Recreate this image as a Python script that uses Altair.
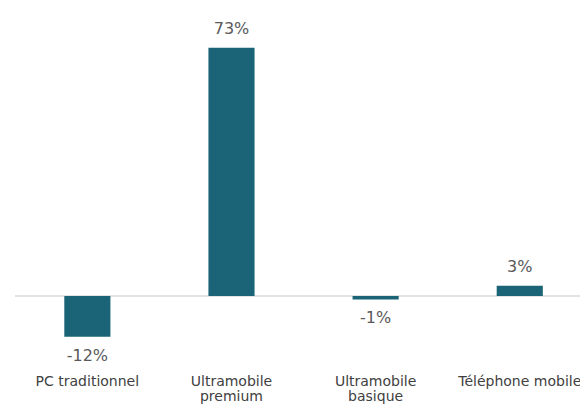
import altair as alt
import pandas as pd

categories = ["PC traditionnel", "Ultramobile premium", "Ultramobile basique", "Téléphone mobile"]
values = [-12, 73, -1, 3]
labels = ["-12%", "73%", "-1%", "3%"]

df = pd.DataFrame({"cat": categories, "val": values, "lab": labels})

FONT = "DejaVu Sans"
BAR = "#1b6377"
DOMAIN = [-20, 84.7]

x = alt.X("cat:N", sort=categories, title=None,
          scale=alt.Scale(paddingInner=0.68, paddingOuter=0.3, align=0.57),
          axis=alt.Axis(orient="bottom", domain=False, ticks=False, labelAngle=0,
                        labelFont=FONT, labelFontSize=14, labelColor="#404040",
                        labelPadding=10, labelLineHeight=15,
                        labelExpr="indexof(datum.label,'Ultramobile')==0 ? split(datum.label,' ') : datum.label"))
y = alt.Y("val:Q", title=None, scale=alt.Scale(domain=DOMAIN, nice=False, zero=True),
          axis=None)

base = alt.Chart(df)

zero = alt.Chart(pd.DataFrame({"z": [0]})).mark_rule(color="#d9d9d9", strokeWidth=1.5).encode(
    y=alt.Y("z:Q", scale=alt.Scale(domain=DOMAIN, nice=False), axis=None))

bars = base.mark_bar(color=BAR).encode(x=x, y=y)

pos = base.transform_filter("datum.val >= 0").mark_text(
    font=FONT, fontSize=16, color="#595959", dy=-19, baseline="middle").encode(x=x, y=y, text="lab:N")
neg = base.transform_filter("datum.val < 0").mark_text(
    font=FONT, fontSize=16, color="#595959", dy=19, baseline="middle").encode(x=x, y=y, text="lab:N")

chart = alt.layer(zero, bars, pos, neg).properties(
    width=565, height=356,
    autosize=alt.AutoSizeParams(type="none"),
    padding={"left": 7, "top": 0, "right": 0, "bottom": 40},
).configure(background="white", view=alt.ViewConfig(stroke="transparent", strokeWidth=0))

chart.save("out.html", embed_options={"renderer": "svg", "actions": False})
